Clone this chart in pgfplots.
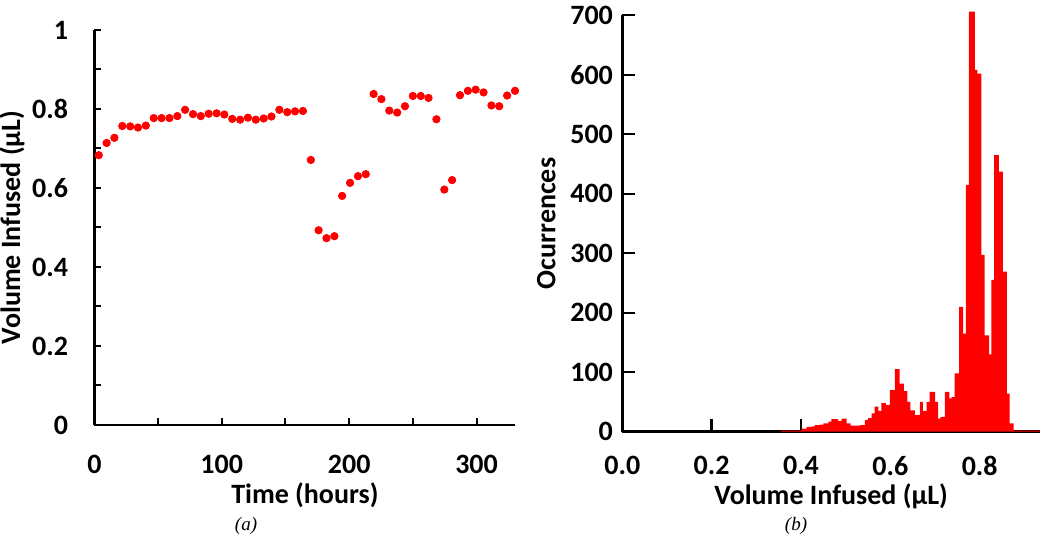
\documentclass[border=0pt]{standalone}
\usepackage{fontspec}
\setmainfont{Carlito}
\newfontfamily\capfont{Liberation Serif}
\usepackage{pgfplots}
\pgfplotsset{compat=1.18}
\definecolor{DotRed}{RGB}{255,0,0}

\begin{document}
\begin{tikzpicture}[font=\bfseries\fontsize{14}{16}\selectfont]
\useasboundingbox (0,0) rectangle (525pt,270pt);

% (a) volume per infusion over time
\begin{axis}[
  at={(47.2pt,57.5pt)}, anchor=south west,
  scale only axis, width=210.5pt, height=197.5pt,
  xmin=0, xmax=330.5, ymin=0, ymax=1,
  axis x line=bottom, axis y line=left,
  axis line style={-, line width=1.3pt},
  tick align=inside, major tick length=3.5pt, minor tick length=3.5pt,
  tick style={line width=1pt, black},
  xtick={0,100,200,300}, minor xtick={50,150,250},
  ytick={0,0.2,0.4,0.6,0.8,1}, yticklabels={0,0.2,0.4,0.6,0.8,1},
  minor ytick={0.1,0.3,0.5,0.7,0.9},
  /pgf/number format/assume math mode=true,
  xticklabel style={anchor=north, inner sep=0pt, yshift=-15pt},
  yticklabel style={anchor=east, inner sep=0pt, xshift=-13pt},
  xlabel={Time (hours)},
  xlabel style={at={(axis description cs:0.5,0)}, anchor=base, yshift=-39.5pt},
  ylabel={Volume Infused (µL)},
  ylabel style={at={(axis description cs:-0.1765,0.5)}, anchor=base},
  clip=false,
]
\addplot[only marks, mark=*, mark size=1.85pt, color=DotRed]
  coordinates {
  (3.4,0.683)(9.6,0.714)(15.7,0.727)(21.9,0.757)(28.1,0.756)(34.2,0.753)
  (40.4,0.758)(46.6,0.777)(52.7,0.777)(58.9,0.777)(65.1,0.782)(71.2,0.798)
  (77.4,0.787)(83.5,0.782)(89.7,0.788)(95.9,0.789)(102.0,0.786)(108.2,0.775)
  (114.4,0.773)(120.5,0.778)(126.7,0.773)(132.9,0.776)(139.0,0.781)(145.2,0.798)
  (151.4,0.792)(157.5,0.794)(163.7,0.795)(169.9,0.671)(176.0,0.493)(182.2,0.473)
  (188.4,0.478)(194.5,0.580)(200.7,0.613)(206.9,0.630)(213.0,0.635)(219.2,0.838)
  (225.3,0.825)(231.5,0.796)(237.7,0.791)(243.8,0.807)(250.0,0.833)(256.2,0.833)
  (262.3,0.828)(268.5,0.774)(274.7,0.596)(280.8,0.620)(287.0,0.835)(293.2,0.846)
  (299.3,0.849)(305.5,0.842)(311.7,0.809)(317.8,0.807)(324.0,0.834)(330.2,0.846)
  };
\end{axis}

% (b) histogram of infused volumes
\begin{axis}[
  at={(311.15pt,54.15pt)}, anchor=south west,
  scale only axis, width=208.85pt, height=208.25pt,
  xmin=0, xmax=0.935, ymin=0, ymax=700,
  axis x line=bottom, axis y line=left,
  axis line style={-, line width=1.4pt},
  tick align=inside, major tick length=6.5pt,
  tick style={line width=1.2pt, black},
  xtick={0,0.2,0.4,0.6,0.8}, xticklabels={0.0,0.2,0.4,0.6,0.8},
  ytick={0,100,200,300,400,500,600,700},
  /pgf/number format/assume math mode=true,
  xticklabel style={anchor=north, inner sep=0pt, yshift=-12pt},
  yticklabel style={anchor=east, inner sep=0pt, xshift=-4.5pt},
  xlabel={Volume Infused (µL)},
  xlabel style={at={(axis description cs:0.5,0)}, anchor=base, yshift=-36.5pt},
  ylabel={Ocurrences},
  ylabel style={at={(axis description cs:-0.1604,0.5)}, anchor=base},
  clip=false,
]
\addplot[draw=none, fill=DotRed, const plot mark left]
  coordinates {
  (0.355,2)(0.401,5)(0.4125,8)(0.424,9)(0.431,11)(0.442,12)(0.450,14)
  (0.461,17)(0.468,21)(0.483,18)(0.491,22)(0.502,14)(0.511,10)(0.532,11)
  (0.543,20)(0.550,23)(0.558,31)(0.565,42)(0.573,35)(0.580,48)(0.590,45)
  (0.599,70)(0.610,105)(0.621,81)(0.630,68)(0.638,50)(0.645,36)(0.655,28)
  (0.666,50)(0.673,35)(0.681,50)(0.688,67)(0.700,50)(0.707,22)(0.712,25)
  (0.722,67)(0.732,56)(0.737,58)(0.744,98)(0.754,210)(0.763,165)(0.769,415)
  (0.776,706)(0.789,608)(0.795,602)(0.804,297)(0.811,162)(0.821,130)
  (0.826,255)(0.8325,465)(0.843,437)(0.852,269)(0.861,64)(0.867,14)
  (0.876,2)(0.935,2)
  } \closedcycle;
\end{axis}

\node[font=\capfont\itshape\fontsize{9.5}{11}\selectfont] at (123pt,7pt) {(a)};
\node[font=\capfont\itshape\fontsize{9.5}{11}\selectfont] at (398pt,7pt) {(b)};
\end{tikzpicture}
\end{document}
